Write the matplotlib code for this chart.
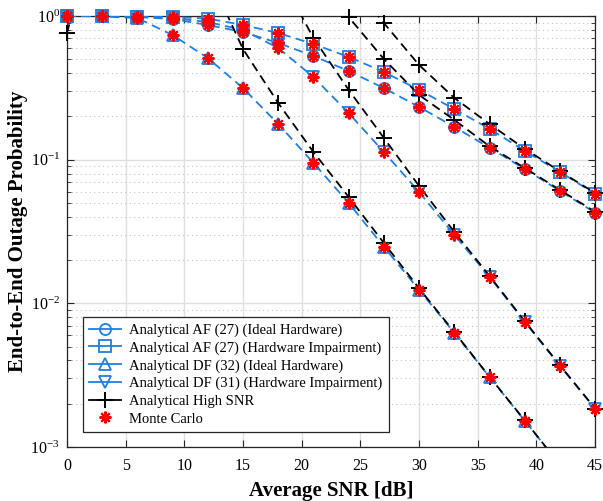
import numpy as np
import matplotlib
matplotlib.use("Agg")
import matplotlib.pyplot as plt
from matplotlib.lines import Line2D

plt.rcParams['font.family'] = ['Liberation Serif', 'DejaVu Serif']
plt.rcParams['mathtext.fontset'] = 'stix'

snr_db = [0, 3, 6, 9, 12, 15, 18, 21, 24, 27, 30, 33, 36, 39, 42, 45]

af_ideal = [1.0, 1.0, 0.984, 0.953, 0.866, 0.774, 0.649, 0.527, 0.414, 0.315,
            0.233, 0.169, 0.121, 0.0861, 0.0606, 0.0427]
af_hwi = [1.0, 1.0, 0.99, 0.984, 0.96, 0.866, 0.762, 0.638, 0.519, 0.408,
          0.306, 0.225, 0.164, 0.115, 0.0821, 0.0577]
df_ideal = [1.0, 0.995, 0.968, 0.737, 0.510, 0.315, 0.177, 0.0948, 0.050, 0.0247,
            0.0124, 0.00622, 0.00307, 0.00152, 0.00075, 0.00038]
df_hwi = [1.0, 1.0, 0.99, 0.97, 0.908, 0.80, 0.599, 0.376, 0.211, 0.113,
          0.0596, 0.0299, 0.0153, 0.00742, 0.00367, 0.00184]

# high SNR approximations (values above 1 fall outside the plot)
hs_df_ideal = [0.761, 6.0, 4.5, 3.2, 2.0, 0.589, 0.248, 0.113, 0.055, 0.0263,
               0.0127, 0.0063, 0.00308, 0.00153, 0.00075, 0.00038]
hs_df_hwi = [40.0, 25.0, 14.0, 8.0, 4.0, 2.0, 2.0, 0.703, 0.306, 0.1416,
             0.0656, 0.0314, 0.0155, 0.0075, 0.0037, 0.00185]
hs_af_ideal = [60.0, 40.0, 25.0, 14.0, 8.0, 4.5, 3.0, 2.0, 0.984, 0.502,
               0.282, 0.189, 0.124, 0.0875, 0.0615, 0.0433]
hs_af_hwi = [60.0, 40.0, 25.0, 14.0, 8.0, 4.5, 3.0, 2.2, 1.8, 0.894,
             0.456, 0.269, 0.177, 0.119, 0.083, 0.0585]

labels = ['Analytical AF (27) (Ideal Hardware)',
          'Analytical AF (27) (Hardware Impairment)',
          'Analytical DF (32) (Ideal Hardware)',
          'Analytical DF (31) (Hardware Impairment)',
          'Analytical High SNR',
          'Monte Carlo']

blue = '#1f7fe0'
asterisk = (8, 2, 0)


def in_view(vals):
    v = np.asarray(vals, dtype=float)
    return np.where((v <= 1.001) & (v >= 1e-3), v, np.nan)


fig = plt.figure(figsize=(6.03, 5.01), dpi=100)
ax = fig.add_axes([0.111, 0.108, 0.876, 0.860])

analytical = [(af_ideal, 'o'), (af_hwi, 's'), (df_ideal, '^'), (df_hwi, 'v')]
high_snr = [hs_df_ideal, hs_df_hwi, hs_af_ideal, hs_af_hwi]

# lines (clipped to the axes)
for vals, mk in analytical:
    ax.plot(snr_db, vals, color=blue, ls='--', dashes=(5, 3), lw=1.3, zorder=3)
for vals in high_snr:
    ax.plot(snr_db, vals, color='black', ls='--', dashes=(5, 3), lw=1.3, zorder=4)

# markers drawn whole, as in the original
for vals, mk in analytical:
    ax.plot(snr_db, in_view(vals), ls='none', marker=mk, ms=8, mfc='none',
            mec=blue, mew=1.3, zorder=3, clip_on=False)
for vals in high_snr:
    ax.plot(snr_db, in_view(vals), ls='none', marker='+', ms=11, mew=1.4,
            color='black', zorder=4, clip_on=False)
for vals, mk in analytical:
    ax.plot(snr_db, in_view(vals), ls='none', marker=asterisk, ms=8.5, mew=1.5,
            color='red', zorder=5, clip_on=False)

ax.set_yscale('log')
ax.set_xlim(0, 45)
ax.set_ylim(1e-3, 1)
ax.set_xticks(np.arange(0, 46, 5))

ax.grid(True, which='major', color='#e0e0e0', lw=1.0, ls='-')
ax.grid(True, which='minor', axis='y', color='#c4c4c4', lw=0.8, ls=(0, (1, 3)))
ax.set_axisbelow(True)
ax.tick_params(which='both', direction='in', top=True, right=True,
               labelsize=11.5, color='#262626')
ax.tick_params(axis='x', pad=8)
ax.tick_params(axis='y', pad=5)
ax.tick_params(which='major', length=5)
ax.tick_params(which='minor', length=3)
for sp in ax.spines.values():
    sp.set_color('#262626')
    sp.set_linewidth(0.9)

ax.set_xlabel('Average SNR [dB]', fontsize=15, fontweight='bold', labelpad=5)
ax.set_ylabel('End-to-End Outage Probability', fontsize=15, fontweight='bold',
              labelpad=2)

handles = [Line2D([], [], color=blue, lw=1.3, marker=m, ms=8, mfc='none',
                  mec=blue, mew=1.3) for m in ['o', 's', '^', 'v']]
handles.append(Line2D([], [], color='black', lw=1.3, marker='+', ms=11, mew=1.4))
handles.append(Line2D([], [], ls='none', color='red', marker=asterisk, ms=8.5, mew=1.5))
leg = ax.legend(handles, labels, loc='upper left', bbox_to_anchor=(0.03, 0.302),
                borderaxespad=0, fontsize=10.5, fancybox=False, framealpha=1,
                edgecolor='#262626', handlelength=2.2, handletextpad=0.5,
                labelspacing=0.3, borderpad=0.45)
leg.get_frame().set_linewidth(0.9)
leg.set_zorder(10)

fig.savefig('out.png', dpi=100)
